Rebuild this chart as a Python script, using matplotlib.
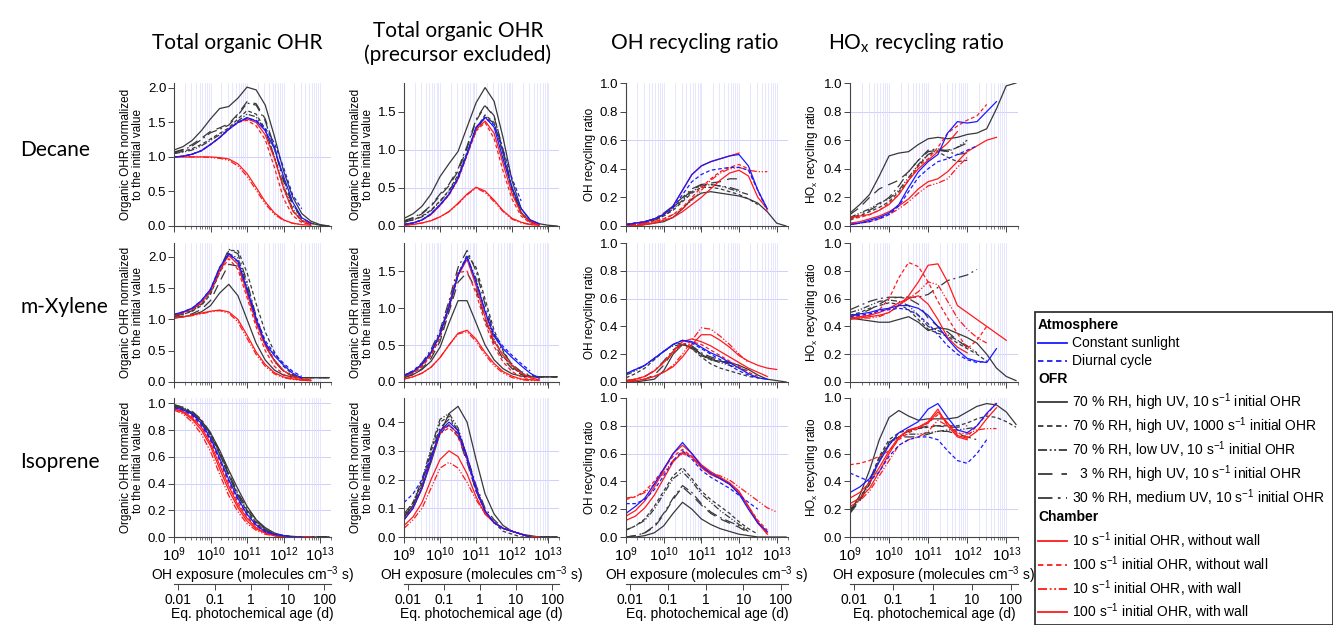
import numpy as np
import matplotlib
matplotlib.use('Agg')
import matplotlib.pyplot as plt
from matplotlib.lines import Line2D
from matplotlib.patches import Rectangle
from matplotlib.ticker import LogLocator, NullFormatter, FixedLocator, FixedFormatter

plt.rcParams['font.family'] = ['Liberation Sans', 'DejaVu Sans']
plt.rcParams['mathtext.default'] = 'regular'

# OH exposure grid (log10 molecules cm-3 s) the curves are read at
log_exposure = [9.0, 9.25, 9.5, 9.75, 10.0, 10.25, 10.5, 10.75, 11.0,
                11.25, 11.5, 11.75, 12.0, 12.25, 12.5, 12.75, 13.0, 13.25]

row_names = ['Decane', 'm-Xylene', 'Isoprene']
col_titles = ['Total organic OHR', 'Total organic OHR\n(precursor excluded)',
              'OH recycling ratio', 'HO$_x$ recycling ratio']

# keys: cs/dc = atmosphere, o1..o5 = OFR cases, c1..c4 = chamber cases
decane_total = {
    'o1': [1.10, 1.15, 1.24, 1.38, 1.55, 1.70, 1.73, 1.85, 2.01, 1.97, 1.75, 1.30, 0.80, 0.42, 0.18, 0.07, 0.02, 0.0],
    'o2': [1.05, 1.08, 1.12, 1.18, 1.26, 1.34, 1.42, 1.55, 1.67, 1.62, 1.40, 1.00, 0.55, 0.22, 0.07, 0.02],
    'o3': [1.05, 1.07, 1.10, 1.16, 1.24, 1.32, 1.40, 1.52, 1.62, 1.58, 1.38, 1.00, 0.58, 0.25, 0.08, 0.02],
    'o4': [1.07, 1.11, 1.18, 1.27, 1.37, 1.42, 1.48, 1.62, 1.80, 1.77, 1.55, 1.15, 0.68, 0.32, 0.12, 0.04, 0.01, 0.0],
    'o5': [1.06, 1.10, 1.16, 1.25, 1.35, 1.40, 1.46, 1.60, 1.78, 1.75, 1.52, 1.12, 0.65, 0.30, 0.11, 0.04, 0.01, 0.0],
    'c1': [1.00, 1.00, 1.00, 1.00, 1.00, 0.99, 0.97, 0.90, 0.76, 0.56, 0.35, 0.19, 0.09, 0.04, 0.02, 0.01],
    'c2': [1.00, 1.01, 1.04, 1.09, 1.18, 1.28, 1.40, 1.50, 1.53, 1.45, 1.25, 0.85, 0.40, 0.15, 0.05, 0.02],
    'c3': [1.00, 1.00, 1.00, 1.00, 0.99, 0.98, 0.95, 0.87, 0.72, 0.52, 0.32, 0.17, 0.08, 0.04, 0.02],
    'c4': [1.00, 1.01, 1.04, 1.09, 1.18, 1.28, 1.40, 1.50, 1.55, 1.50, 1.32, 0.98, 0.55, 0.22, 0.08, 0.03],
    'cs': [1.00, 1.01, 1.04, 1.09, 1.18, 1.28, 1.40, 1.50, 1.57, 1.52, 1.38, 1.12, 0.72, 0.35, 0.12, 0.04],
    'dc': [1.00, 1.01, 1.04, 1.09, 1.18, 1.28, 1.40, 1.50, 1.56, 1.53, 1.42, 1.20, 0.85, 0.45, 0.25],
}
xylene_total = {
    'o1': [1.03, 1.04, 1.07, 1.12, 1.22, 1.42, 1.56, 1.38, 1.00, 0.62, 0.35, 0.19, 0.11, 0.08, 0.07, 0.07, 0.07, 0.07],
    'o2': [1.05, 1.08, 1.13, 1.22, 1.40, 1.75, 2.10, 2.10, 1.75, 1.25, 0.80, 0.48, 0.25, 0.12, 0.07, 0.07, 0.07, 0.07],
    'o3': [1.05, 1.08, 1.14, 1.24, 1.42, 1.76, 2.05, 1.98, 1.55, 1.02, 0.60, 0.34, 0.18, 0.10, 0.07, 0.07, 0.07, 0.07],
    'o4': [1.03, 1.05, 1.09, 1.16, 1.30, 1.60, 1.88, 1.85, 1.45, 0.95, 0.58, 0.33, 0.17, 0.09, 0.07, 0.07, 0.07, 0.07],
    'o5': [1.06, 1.10, 1.16, 1.26, 1.45, 1.80, 2.12, 2.05, 1.60, 1.05, 0.62, 0.35, 0.18, 0.10, 0.07, 0.07, 0.07, 0.07],
    'c1': [1.02, 1.04, 1.07, 1.10, 1.13, 1.15, 1.12, 1.00, 0.75, 0.48, 0.28, 0.15, 0.08, 0.05, 0.03, 0.02],
    'c2': [1.06, 1.10, 1.16, 1.26, 1.44, 1.75, 1.97, 1.80, 1.35, 0.88, 0.50, 0.25, 0.12, 0.06, 0.04, 0.03],
    'c3': [1.02, 1.04, 1.06, 1.09, 1.12, 1.14, 1.10, 0.96, 0.70, 0.44, 0.25, 0.13, 0.07, 0.04, 0.03, 0.02],
    'c4': [1.07, 1.11, 1.17, 1.28, 1.46, 1.80, 2.02, 1.88, 1.42, 0.95, 0.58, 0.34, 0.18, 0.09, 0.05, 0.03],
    'cs': [1.08, 1.12, 1.18, 1.30, 1.48, 1.83, 2.05, 1.93, 1.48, 1.00, 0.62, 0.42, 0.27, 0.14, 0.06],
    'dc': [1.08, 1.12, 1.18, 1.30, 1.48, 1.83, 2.04, 1.92, 1.50, 1.03, 0.66, 0.45, 0.30, 0.17, 0.09],
}
isoprene_total = {
    'o1': [0.98, 0.96, 0.93, 0.87, 0.78, 0.65, 0.50, 0.36, 0.23, 0.13, 0.07, 0.03, 0.01, 0.005, 0.0, 0.0, 0.0, 0.0],
    'o2': [0.98, 0.96, 0.92, 0.86, 0.76, 0.62, 0.46, 0.31, 0.19, 0.10, 0.05, 0.02, 0.01, 0.0, 0.0, 0.0, 0.0, 0.0],
    'o3': [0.99, 0.97, 0.93, 0.87, 0.77, 0.63, 0.47, 0.32, 0.20, 0.11, 0.05, 0.02, 0.01, 0.0, 0.0, 0.0, 0.0, 0.0],
    'o4': [0.98, 0.96, 0.92, 0.86, 0.76, 0.62, 0.46, 0.31, 0.20, 0.12, 0.06, 0.02, 0.01, 0.0, 0.0, 0.0, 0.0, 0.0],
    'o5': [0.99, 0.97, 0.94, 0.88, 0.78, 0.64, 0.48, 0.33, 0.22, 0.13, 0.06, 0.02, 0.01, 0.0, 0.0, 0.0, 0.0, 0.0],
    'c1': [0.96, 0.93, 0.88, 0.80, 0.68, 0.51, 0.35, 0.22, 0.12, 0.06, 0.03, 0.01, 0.0, 0.0, 0.0, 0.0],
    'c2': [0.97, 0.94, 0.90, 0.83, 0.72, 0.57, 0.40, 0.26, 0.15, 0.08, 0.04, 0.02, 0.01, 0.0, 0.0, 0.0],
    'c3': [0.95, 0.92, 0.86, 0.77, 0.64, 0.47, 0.31, 0.19, 0.10, 0.05, 0.02, 0.01, 0.0, 0.0, 0.0, 0.0],
    'c4': [0.96, 0.94, 0.89, 0.82, 0.70, 0.54, 0.38, 0.24, 0.14, 0.07, 0.03, 0.01, 0.0, 0.0, 0.0, 0.0],
    'cs': [0.97, 0.95, 0.92, 0.85, 0.74, 0.59, 0.43, 0.29, 0.17, 0.09, 0.04, 0.02, 0.01, 0.0, 0.0],
    'dc': [0.97, 0.95, 0.91, 0.84, 0.73, 0.58, 0.42, 0.28, 0.17, 0.09, 0.04, 0.02, 0.01, 0.0, 0.0],
}

decane_excl = {
    'o1': [0.10, 0.16, 0.26, 0.42, 0.65, 0.82, 0.98, 1.30, 1.62, 1.82, 1.64, 1.16, 0.59, 0.23, 0.08, 0.03, 0.01, 0.0],
    'o2': [0.05, 0.08, 0.13, 0.21, 0.33, 0.47, 0.67, 0.97, 1.28, 1.46, 1.36, 0.95, 0.46, 0.16, 0.05, 0.02],
    'o3': [0.05, 0.08, 0.12, 0.20, 0.32, 0.46, 0.65, 0.94, 1.25, 1.44, 1.35, 0.96, 0.48, 0.18, 0.06, 0.02],
    'o4': [0.06, 0.10, 0.16, 0.26, 0.40, 0.53, 0.72, 1.02, 1.38, 1.58, 1.44, 0.98, 0.48, 0.17, 0.05, 0.02],
    'o5': [0.07, 0.11, 0.17, 0.27, 0.42, 0.55, 0.75, 1.05, 1.40, 1.59, 1.45, 1.00, 0.50, 0.18, 0.06, 0.02],
    'c1': [0.01, 0.02, 0.04, 0.07, 0.12, 0.19, 0.30, 0.42, 0.51, 0.46, 0.34, 0.20, 0.10, 0.05, 0.02, 0.01],
    'c2': [0.02, 0.04, 0.08, 0.15, 0.27, 0.41, 0.61, 0.93, 1.25, 1.36, 1.15, 0.72, 0.35, 0.13, 0.04, 0.01],
    'c3': [0.01, 0.02, 0.04, 0.07, 0.12, 0.19, 0.29, 0.41, 0.50, 0.44, 0.32, 0.19, 0.09, 0.04, 0.02, 0.01],
    'c4': [0.02, 0.04, 0.08, 0.15, 0.27, 0.41, 0.62, 0.94, 1.27, 1.38, 1.22, 0.82, 0.42, 0.17, 0.06, 0.02],
    'cs': [0.02, 0.04, 0.08, 0.16, 0.28, 0.42, 0.63, 0.95, 1.30, 1.43, 1.30, 0.88, 0.50, 0.23, 0.08, 0.03],
    'dc': [0.02, 0.04, 0.08, 0.16, 0.28, 0.42, 0.63, 0.95, 1.29, 1.42, 1.33, 1.00, 0.62, 0.33],
}
xylene_excl = {
    'o1': [0.06, 0.10, 0.17, 0.28, 0.47, 0.80, 1.10, 1.10, 0.80, 0.50, 0.30, 0.18, 0.11, 0.08, 0.07, 0.07, 0.07, 0.07],
    'o2': [0.07, 0.12, 0.21, 0.36, 0.60, 0.98, 1.45, 1.72, 1.55, 1.12, 0.70, 0.42, 0.23, 0.12, 0.08, 0.07, 0.07, 0.07],
    'o3': [0.08, 0.14, 0.24, 0.40, 0.65, 1.05, 1.48, 1.68, 1.40, 0.95, 0.58, 0.35, 0.20, 0.11, 0.07, 0.07, 0.07, 0.07],
    'o4': [0.06, 0.10, 0.18, 0.32, 0.55, 0.95, 1.35, 1.48, 1.25, 0.85, 0.52, 0.31, 0.18, 0.10, 0.07, 0.07, 0.07, 0.07],
    'o5': [0.09, 0.15, 0.26, 0.44, 0.70, 1.10, 1.55, 1.78, 1.50, 1.05, 0.65, 0.40, 0.24, 0.14, 0.09, 0.07, 0.07, 0.07],
    'c1': [0.04, 0.07, 0.12, 0.20, 0.33, 0.50, 0.66, 0.70, 0.58, 0.40, 0.25, 0.14, 0.08, 0.04, 0.03, 0.02],
    'c2': [0.07, 0.12, 0.21, 0.36, 0.62, 1.05, 1.48, 1.50, 1.20, 0.80, 0.48, 0.27, 0.14, 0.07, 0.04, 0.03],
    'c3': [0.04, 0.07, 0.12, 0.20, 0.33, 0.50, 0.65, 0.68, 0.55, 0.37, 0.22, 0.12, 0.06, 0.03, 0.02, 0.02],
    'c4': [0.08, 0.13, 0.23, 0.39, 0.64, 1.01, 1.44, 1.66, 1.30, 0.88, 0.55, 0.36, 0.22, 0.12, 0.06, 0.03],
    'cs': [0.08, 0.14, 0.24, 0.40, 0.65, 1.02, 1.45, 1.70, 1.35, 0.95, 0.62, 0.45, 0.33, 0.22, 0.12, 0.05],
    'dc': [0.09, 0.15, 0.25, 0.41, 0.66, 1.03, 1.45, 1.68, 1.36, 0.97, 0.65, 0.48, 0.36, 0.25, 0.15],
}
isoprene_excl = {
    'o1': [0.07, 0.11, 0.17, 0.26, 0.36, 0.43, 0.455, 0.40, 0.27, 0.15, 0.08, 0.04, 0.02, 0.01, 0.005, 0.0, 0.0, 0.0],
    'o2': [0.06, 0.11, 0.19, 0.30, 0.40, 0.42, 0.37, 0.27, 0.16, 0.09, 0.05, 0.02, 0.01, 0.0, 0.0, 0.0, 0.0, 0.0],
    'o3': [0.07, 0.12, 0.20, 0.31, 0.41, 0.43, 0.38, 0.28, 0.17, 0.09, 0.05, 0.03, 0.02, 0.01, 0.0, 0.0, 0.0, 0.0],
    'o4': [0.07, 0.11, 0.18, 0.28, 0.37, 0.39, 0.35, 0.26, 0.16, 0.09, 0.05, 0.03, 0.02, 0.01, 0.0, 0.0, 0.0, 0.0],
    'o5': [0.08, 0.12, 0.19, 0.29, 0.38, 0.41, 0.37, 0.28, 0.18, 0.10, 0.06, 0.03, 0.02, 0.01, 0.0, 0.0, 0.0, 0.0],
    'c1': [0.04, 0.07, 0.12, 0.20, 0.27, 0.30, 0.28, 0.22, 0.14, 0.08, 0.05, 0.03, 0.02, 0.01, 0.0, 0.0],
    'c2': [0.06, 0.10, 0.17, 0.27, 0.36, 0.38, 0.35, 0.27, 0.17, 0.09, 0.05, 0.03, 0.02, 0.01, 0.0, 0.0],
    'c3': [0.03, 0.06, 0.10, 0.17, 0.24, 0.26, 0.24, 0.19, 0.13, 0.08, 0.05, 0.03, 0.02, 0.01, 0.0, 0.0],
    'c4': [0.06, 0.10, 0.17, 0.27, 0.37, 0.39, 0.36, 0.27, 0.17, 0.09, 0.05, 0.03, 0.02, 0.01, 0.0, 0.0],
    'cs': [0.06, 0.10, 0.17, 0.27, 0.37, 0.40, 0.37, 0.28, 0.17, 0.09, 0.05, 0.03, 0.02, 0.01, 0.0],
    'dc': [0.12, 0.15, 0.20, 0.28, 0.36, 0.39, 0.36, 0.27, 0.16, 0.09, 0.05, 0.03, 0.02, 0.01, 0.0],
}

decane_oh = {
    'o1': [0.00, 0.00, 0.01, 0.02, 0.03, 0.06, 0.12, 0.19, 0.23, 0.24, 0.23, 0.22, 0.21, 0.19, 0.16, 0.10, 0.02, 0.0],
    'o2': [0.01, 0.01, 0.02, 0.04, 0.07, 0.11, 0.17, 0.23, 0.27, 0.27, 0.26, 0.24, 0.22, 0.19, 0.15],
    'o3': [0.01, 0.01, 0.02, 0.04, 0.07, 0.12, 0.18, 0.24, 0.28, 0.29, 0.28, 0.26, 0.24, 0.22],
    'o4': [0.01, 0.02, 0.03, 0.05, 0.08, 0.13, 0.19, 0.25, 0.29, 0.30, 0.31, 0.33, 0.33],
    'o5': [0.01, 0.02, 0.03, 0.05, 0.09, 0.14, 0.20, 0.26, 0.29, 0.29, 0.28, 0.27, 0.25],
    'c1': [0.00, 0.00, 0.01, 0.02, 0.04, 0.06, 0.10, 0.15, 0.20, 0.26, 0.32, 0.37, 0.39, 0.35, 0.20, 0.12],
    'c2': [0.00, 0.01, 0.02, 0.03, 0.05, 0.08, 0.13, 0.20, 0.27, 0.33, 0.38, 0.41, 0.43, 0.40, 0.25, 0.10],
    'c3': [0.00, 0.01, 0.02, 0.03, 0.05, 0.08, 0.12, 0.18, 0.25, 0.32, 0.37, 0.40, 0.41, 0.39, 0.38, 0.38],
    'c4': [0.01, 0.02, 0.03, 0.05, 0.08, 0.14, 0.25, 0.36, 0.42, 0.45, 0.47, 0.49, 0.51],
    'cs': [0.01, 0.02, 0.03, 0.05, 0.08, 0.14, 0.25, 0.36, 0.42, 0.45, 0.47, 0.49, 0.50, 0.42, 0.25, 0.12],
    'dc': [0.01, 0.02, 0.03, 0.05, 0.08, 0.13, 0.22, 0.31, 0.36, 0.39, 0.40, 0.41, 0.41, 0.39, 0.25, 0.12],
}
xylene_oh = {
    'o1': [0.00, 0.00, 0.01, 0.02, 0.08, 0.20, 0.27, 0.25, 0.20, 0.16, 0.15, 0.14, 0.12, 0.09, 0.05, 0.02, 0.01, 0.0],
    'o2': [0.03, 0.06, 0.10, 0.16, 0.22, 0.27, 0.28, 0.24, 0.18, 0.13, 0.10, 0.08, 0.06, 0.04, 0.03, 0.02],
    'o3': [0.05, 0.08, 0.12, 0.17, 0.22, 0.26, 0.27, 0.24, 0.19, 0.16, 0.14, 0.12, 0.10, 0.08],
    'o4': [0.00, 0.01, 0.02, 0.05, 0.12, 0.22, 0.27, 0.25, 0.20, 0.17, 0.15, 0.13],
    'o5': [0.01, 0.02, 0.04, 0.08, 0.15, 0.23, 0.28, 0.26, 0.21, 0.18, 0.16, 0.14, 0.12],
    'c1': [0.00, 0.01, 0.02, 0.04, 0.07, 0.11, 0.18, 0.27, 0.34, 0.34, 0.30, 0.25, 0.19, 0.15, 0.12, 0.10, 0.09],
    'c2': [0.01, 0.02, 0.04, 0.08, 0.14, 0.21, 0.27, 0.29, 0.27, 0.23, 0.19, 0.15, 0.11, 0.07, 0.04],
    'c3': [0.00, 0.01, 0.02, 0.04, 0.07, 0.12, 0.20, 0.30, 0.39, 0.38, 0.33, 0.27, 0.20, 0.14],
    'c4': [0.01, 0.02, 0.04, 0.08, 0.14, 0.22, 0.29, 0.31, 0.29, 0.26, 0.22, 0.18, 0.14, 0.10, 0.07, 0.04],
    'cs': [0.06, 0.09, 0.12, 0.17, 0.22, 0.27, 0.30, 0.29, 0.25, 0.21, 0.18, 0.14, 0.10, 0.06, 0.03, 0.02],
    'dc': [0.06, 0.09, 0.12, 0.17, 0.22, 0.27, 0.30, 0.28, 0.24, 0.20, 0.16, 0.12, 0.08, 0.05, 0.03],
}
isoprene_oh = {
    'o1': [0.00, 0.00, 0.01, 0.03, 0.08, 0.17, 0.25, 0.20, 0.13, 0.09, 0.06, 0.04, 0.02, 0.01, 0.0, 0.0, 0.0, 0.0],
    'o2': [0.05, 0.08, 0.13, 0.22, 0.33, 0.44, 0.50, 0.42, 0.33, 0.27, 0.22, 0.17, 0.11, 0.06, 0.02],
    'o3': [0.05, 0.08, 0.12, 0.20, 0.31, 0.42, 0.47, 0.40, 0.31, 0.25, 0.19, 0.14, 0.09, 0.05],
    'o4': [0.00, 0.01, 0.03, 0.07, 0.16, 0.27, 0.36, 0.30, 0.23, 0.17, 0.13, 0.10, 0.07, 0.03],
    'o5': [0.00, 0.01, 0.03, 0.08, 0.17, 0.28, 0.37, 0.32, 0.24, 0.18, 0.14, 0.11, 0.08, 0.04],
    'c1': [0.15, 0.19, 0.26, 0.36, 0.48, 0.60, 0.66, 0.60, 0.52, 0.47, 0.43, 0.39, 0.33, 0.22, 0.10, 0.02],
    'c2': [0.27, 0.29, 0.33, 0.40, 0.49, 0.58, 0.63, 0.58, 0.50, 0.45, 0.42, 0.38, 0.32, 0.22, 0.12, 0.05],
    'c3': [0.28, 0.29, 0.32, 0.38, 0.46, 0.55, 0.60, 0.57, 0.50, 0.46, 0.44, 0.41, 0.36, 0.31, 0.26, 0.21, 0.18],
    'c4': [0.12, 0.15, 0.21, 0.30, 0.42, 0.54, 0.61, 0.58, 0.50, 0.45, 0.42, 0.38, 0.32, 0.22, 0.11, 0.03],
    'cs': [0.17, 0.22, 0.28, 0.38, 0.49, 0.60, 0.68, 0.60, 0.51, 0.46, 0.42, 0.38, 0.31, 0.20, 0.10, 0.04],
    'dc': [0.24, 0.24, 0.27, 0.34, 0.44, 0.55, 0.62, 0.56, 0.48, 0.43, 0.39, 0.35, 0.30, 0.25, 0.20],
}

decane_hox = {
    'o1': [0.09, 0.15, 0.22, 0.35, 0.49, 0.51, 0.52, 0.57, 0.61, 0.62, 0.61, 0.62, 0.64, 0.65, 0.68, 0.82, 0.98, 1.00],
    'o2': [0.04, 0.07, 0.10, 0.13, 0.17, 0.24, 0.32, 0.42, 0.50, 0.52, 0.48, 0.45, 0.46],
    'o3': [0.06, 0.09, 0.12, 0.16, 0.19, 0.25, 0.34, 0.43, 0.50, 0.53, 0.52, 0.55, 0.60],
    'o4': [0.08, 0.13, 0.20, 0.26, 0.29, 0.32, 0.38, 0.46, 0.52, 0.53, 0.53, 0.55, 0.58],
    'o5': [0.05, 0.08, 0.11, 0.15, 0.20, 0.28, 0.38, 0.46, 0.53, 0.54, 0.52, 0.50, 0.51],
    'c1': [0.02, 0.03, 0.05, 0.07, 0.10, 0.14, 0.19, 0.26, 0.31, 0.33, 0.38, 0.45, 0.52, 0.56, 0.60, 0.62],
    'c2': [0.05, 0.06, 0.08, 0.11, 0.16, 0.22, 0.32, 0.42, 0.47, 0.55, 0.65, 0.70, 0.74, 0.77, 0.85],
    'c3': [0.01, 0.02, 0.03, 0.05, 0.08, 0.12, 0.17, 0.23, 0.28, 0.30, 0.33, 0.41, 0.48],
    'c4': [0.06, 0.07, 0.08, 0.11, 0.15, 0.22, 0.32, 0.40, 0.46, 0.52, 0.58, 0.66],
    'cs': [0.01, 0.02, 0.04, 0.06, 0.09, 0.15, 0.27, 0.38, 0.45, 0.50, 0.65, 0.73, 0.72, 0.73, 0.80, 0.87],
    'dc': [0.01, 0.02, 0.03, 0.05, 0.08, 0.14, 0.24, 0.34, 0.40, 0.45, 0.47, 0.50, 0.53, 0.56],
}
xylene_hox = {
    'o1': [0.46, 0.45, 0.44, 0.43, 0.43, 0.45, 0.47, 0.43, 0.37, 0.39, 0.38, 0.35, 0.32, 0.28, 0.20, 0.10, 0.04, 0.01],
    'o2': [0.48, 0.50, 0.53, 0.55, 0.57, 0.56, 0.52, 0.45, 0.38, 0.35, 0.33, 0.28, 0.24, 0.20, 0.15],
    'o3': [0.50, 0.52, 0.55, 0.58, 0.59, 0.58, 0.55, 0.48, 0.40, 0.37, 0.34, 0.30, 0.26, 0.21],
    'o4': [0.47, 0.49, 0.52, 0.56, 0.60, 0.61, 0.60, 0.56, 0.46, 0.40, 0.36, 0.30, 0.25],
    'o5': [0.52, 0.55, 0.58, 0.60, 0.61, 0.61, 0.61, 0.61, 0.63, 0.68, 0.73, 0.75, 0.77, 0.81],
    'c1': [0.46, 0.47, 0.48, 0.50, 0.53, 0.57, 0.60, 0.62, 0.56, 0.45, 0.32, 0.25, 0.21],
    'c2': [0.46, 0.47, 0.48, 0.52, 0.60, 0.75, 0.86, 0.83, 0.72, 0.58, 0.46, 0.35, 0.24, 0.30, 0.40],
    'c3': [0.46, 0.46, 0.46, 0.47, 0.50, 0.55, 0.60, 0.65, 0.72, 0.70, 0.58, 0.46, 0.38, 0.32, 0.28],
    'c4': [0.45, 0.46, 0.47, 0.48, 0.50, 0.55, 0.62, 0.72, 0.84, 0.85, 0.72, 0.55, 0.50, 0.45, 0.40, 0.35, 0.30],
    'cs': [0.48, 0.49, 0.50, 0.52, 0.53, 0.55, 0.55, 0.53, 0.48, 0.40, 0.31, 0.23, 0.17, 0.15, 0.14, 0.24],
    'dc': [0.47, 0.48, 0.49, 0.51, 0.52, 0.53, 0.52, 0.48, 0.42, 0.34, 0.26, 0.20, 0.16, 0.14, 0.15],
}
isoprene_hox = {
    'o1': [0.18, 0.30, 0.48, 0.70, 0.86, 0.91, 0.87, 0.84, 0.85, 0.85, 0.85, 0.86, 0.90, 0.94, 0.96, 0.95, 0.90, 0.81],
    'o2': [0.20, 0.28, 0.40, 0.58, 0.70, 0.75, 0.77, 0.78, 0.79, 0.80, 0.80, 0.80, 0.82, 0.85, 0.87, 0.86, 0.83, 0.79],
    'o3': [0.19, 0.27, 0.38, 0.55, 0.67, 0.72, 0.74, 0.74, 0.75, 0.76, 0.77, 0.77, 0.78, 0.79],
    'o4': [0.17, 0.26, 0.38, 0.56, 0.68, 0.73, 0.76, 0.78, 0.80, 0.80, 0.79, 0.79, 0.80],
    'o5': [0.18, 0.27, 0.40, 0.57, 0.68, 0.72, 0.72, 0.72, 0.74, 0.76, 0.76, 0.74, 0.72, 0.70],
    'c1': [0.28, 0.32, 0.39, 0.50, 0.62, 0.72, 0.77, 0.79, 0.82, 0.90, 0.82, 0.73, 0.71, 0.76, 0.85, 0.93],
    'c2': [0.52, 0.53, 0.55, 0.58, 0.62, 0.70, 0.75, 0.78, 0.82, 0.88, 0.82, 0.75, 0.72, 0.80, 0.88, 0.97],
    'c3': [0.22, 0.26, 0.33, 0.44, 0.55, 0.66, 0.70, 0.72, 0.76, 0.84, 0.80, 0.75, 0.74, 0.77, 0.78, 0.78],
    'c4': [0.24, 0.28, 0.35, 0.47, 0.60, 0.71, 0.77, 0.79, 0.83, 0.92, 0.80, 0.72, 0.70],
    'cs': [0.32, 0.36, 0.42, 0.54, 0.66, 0.75, 0.79, 0.83, 0.92, 0.96, 0.86, 0.77, 0.75, 0.80, 0.89, 0.96],
    'dc': [0.46, 0.43, 0.40, 0.47, 0.58, 0.66, 0.70, 0.72, 0.72, 0.70, 0.62, 0.55, 0.53, 0.60, 0.70],
}

panels = [[decane_total, decane_excl, decane_oh, decane_hox],
          [xylene_total, xylene_excl, xylene_oh, xylene_hox],
          [isoprene_total, isoprene_excl, isoprene_oh, isoprene_hox]]

BLACK, RED, BLUE = '#383838', '#ff1a1a', '#1a1aff'
DDOT = (0, (5, 1.5, 1, 1.5, 1, 1.5))
STYLES = {
    'o1': (BLACK, '-'), 'o2': (BLACK, (0, (3, 2))), 'o3': (BLACK, DDOT),
    'o4': (BLACK, (0, (8, 5))), 'o5': (BLACK, (0, (8, 3, 1.5, 3))),
    'c1': (RED, '-'), 'c2': (RED, (0, (3, 2))), 'c3': (RED, DDOT), 'c4': (RED, '-'),
    'cs': (BLUE, '-'), 'dc': (BLUE, (0, (3, 2))),
}
DRAW_ORDER = ['o1', 'o2', 'o3', 'o4', 'o5', 'c1', 'c2', 'c3', 'c4', 'cs', 'dc']

W, H = 1333, 625
col_px = [(174, 331), (404, 559), (626, 788), (850, 1018)]
row_px = [(83, 226), (243, 382), (398, 537)]
ylims = [[2.07, 1.88, 1.0, 1.0], [2.22, 1.88, 1.0, 1.0], [1.04, 0.484, 1.0, 1.0]]
yticks = [[[0, 0.5, 1, 1.5, 2], [0, 0.5, 1, 1.5], None, None],
          [[0, 0.5, 1, 1.5, 2], [0, 0.5, 1, 1.5], None, None],
          [None, [0, 0.1, 0.2, 0.3, 0.4], None, None]]
hgrid = [[[1.0], [0.5, 1.0], [0.6], [0.8]],
         [[], [0.5], [0.6, 0.8], [0.2]],
         [[0.2, 0.4, 0.6, 0.8, 1.0], [0.1, 0.2, 0.3], [0.6, 0.8], [0.2]]]
ylabels = ['Organic OHR normalized\nto the initial value',
           'Organic OHR normalized\nto the initial value',
           'OH recycling ratio', 'HO$_x$ recycling ratio']
DAY = 1.5e6 * 86400.0

fig = plt.figure(figsize=(W / 100, H / 100), dpi=100)

for r in range(3):
    for c in range(4):
        l, rt = col_px[c]
        t, b = row_px[r]
        ax = fig.add_axes([l / W, 1 - b / H, (rt - l) / W, (b - t) / H])
        data = panels[r][c]
        for key in DRAW_ORDER:
            y = data[key]
            x = 10 ** np.array(log_exposure[:len(y)])
            color, ls = STYLES[key]
            ax.plot(x, y, color=color, ls=ls, lw=0.9)
        ax.set_xscale('log')
        ax.set_xlim(1e9, 2e13)
        ax.set_ylim(0, ylims[r][c])
        if yticks[r][c] is not None:
            ax.set_yticks(yticks[r][c])
        else:
            ax.set_yticks([0, 0.2, 0.4, 0.6, 0.8, 1.0])
        ax.yaxis.set_major_formatter(plt.FuncFormatter(lambda v, p: f'{v:.1f}'))
        ax.xaxis.set_major_locator(LogLocator(base=10, numticks=10))
        ax.xaxis.set_minor_locator(LogLocator(base=10, subs=np.arange(2, 10), numticks=20))
        ax.xaxis.set_minor_formatter(NullFormatter())
        ax.grid(True, which='both', axis='x', color='#dcdcff', lw=0.5)
        for yg in hgrid[r][c]:
            ax.axhline(yg, color='#c8c8ff', lw=0.6, zorder=0)
        for s in ['top', 'right']:
            ax.spines[s].set_visible(False)
        for s in ['left', 'bottom']:
            ax.spines[s].set_color('#444444')
            ax.spines[s].set_linewidth(0.8)
        ax.tick_params(which='major', direction='out', length=4, width=0.7,
                       labelsize=9.5, color='#444444', pad=1.5)
        ax.tick_params(which='minor', direction='out', length=2, width=0.5, color='#444444')
        ax.set_ylabel(ylabels[c], fontsize=8.5, labelpad=3, linespacing=1.0)
        if r < 2:
            ax.tick_params(axis='x', labelbottom=False)
        else:
            ax.tick_params(axis='x', labelsize=10.5, pad=2)
            ax.set_xlabel('OH exposure (molecules cm$^{-3}$ s)', fontsize=10, labelpad=0)
            sec = ax.secondary_xaxis(-0.34, functions=(lambda v: v / DAY, lambda d: d * DAY))
            sec.xaxis.set_major_locator(FixedLocator([0.01, 0.1, 1, 10, 100]))
            sec.xaxis.set_major_formatter(FixedFormatter(['0.01', '0.1', '1', '10', '100']))
            sec.xaxis.set_minor_formatter(NullFormatter())
            sec.spines['bottom'].set_color('#444444')
            sec.spines['bottom'].set_linewidth(0.8)
            sec.tick_params(which='major', direction='out', length=4, width=0.7,
                            labelsize=10, color='#444444', pad=2)
            sec.tick_params(which='minor', direction='out', length=2, width=0.5, color='#444444')
            sec.set_xlabel('Eq. photochemical age (d)', fontsize=10, labelpad=0)

title_font = ['Lato', 'DejaVu Sans']
title_x = [237, 458, 695, 916]
for c, title in enumerate(col_titles):
    fig.text(title_x[c] / W, 1 - 43 / H, title, ha='center', va='center',
             fontsize=15, family=title_font, linespacing=1.2)
row_y = [150, 307, 462]
for r, name in enumerate(row_names):
    fig.text(20 / W, 1 - row_y[r] / H, name, ha='left', va='center',
             fontsize=15, family=title_font)

# legend box
fig.add_artist(Rectangle((1035 / W, 0), 1 - 1035 / W, 1 - 312 / H,
                         transform=fig.transFigure, fill=False, ec='#222222', lw=1.2))
legend_rows = [
    ('Atmosphere', None, 325), ('Constant sunlight', 'cs', 343), ('Diurnal cycle', 'dc', 361),
    ('OFR', None, 379),
    ('70 % RH, high UV, 10 s$^{-1}$ initial OHR', 'o1', 402),
    ('70 % RH, high UV, 1000 s$^{-1}$ initial OHR', 'o2', 426),
    ('70 % RH, low UV, 10 s$^{-1}$ initial OHR', 'o3', 450),
    ('  3 % RH, high UV, 10 s$^{-1}$ initial OHR', 'o4', 474),
    ('30 % RH, medium UV, 10 s$^{-1}$ initial OHR', 'o5', 498),
    ('Chamber', None, 517),
    ('10 s$^{-1}$ initial OHR, without wall', 'c1', 541),
    ('100 s$^{-1}$ initial OHR, without wall', 'c2', 565),
    ('10 s$^{-1}$ initial OHR, with wall', 'c3', 589),
    ('100 s$^{-1}$ initial OHR, with wall', 'c4', 612),
]
for label, key, yp in legend_rows:
    if key is None:
        fig.text(1038 / W, 1 - yp / H, label, ha='left', va='center',
                 fontsize=10, fontweight='bold')
    else:
        color, ls = STYLES[key]
        fig.add_artist(Line2D([1038 / W, 1067 / W], [1 - yp / H] * 2,
                              transform=fig.transFigure, color=color, ls=ls, lw=1.3))
        fig.text(1072 / W, 1 - yp / H, label, ha='left', va='center', fontsize=10)

fig.savefig('out.png', dpi=100)
